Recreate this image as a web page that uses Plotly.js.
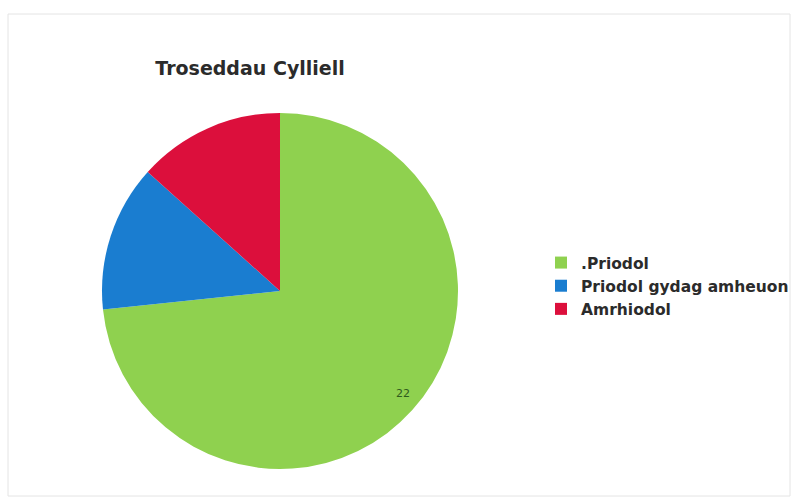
<!DOCTYPE html>
<html>
<head>
<meta charset="utf-8">
<script src="https://cdn.plot.ly/plotly-3.0.1.min.js"></script>
<style>html,body{margin:0;padding:0;background:#fff;}#chart{width:795px;height:499px;}</style>
</head>
<body>
<div id="chart"></div>
<script>
const categories = ['.Priodol', 'Priodol gydag amheuon', 'Amrhiodol'];
const values = [22, 4, 4];
const sliceColors = ['#8fd14f', '#1a7dd0', '#dc0f3c'];
const shownLabels = [true, false, false];

const W = 795, H = 499;
const cx = 280, cy = 291, R = 178;

const trace = {
  type: 'pie',
  labels: categories,
  values: values,
  sort: false,
  direction: 'clockwise',
  rotation: 0,
  marker: {colors: sliceColors, line: {width: 0}},
  textinfo: 'none',
  hoverinfo: 'label+value',
  domain: {x: [(cx - R)/W, (cx + R)/W], y: [(H - cy - R)/H, (H - cy + R)/H]}
};

// value labels placed near the rim of each slice, at the slice's mid angle (derived from the data)
const total = values.reduce((a, b) => a + b, 0);
const annotations = [];
let acc = 0;
values.forEach((v, i) => {
  const mid = (acc + v / 2) / total * 2 * Math.PI;
  acc += v;
  if (!shownLabels[i]) return;
  const rr = R * 0.93;
  annotations.push({
    xref: 'paper', yref: 'paper',
    x: (cx + rr * Math.sin(mid)) / W,
    y: (H - cy + rr * Math.cos(mid)) / H,
    text: String(v), showarrow: false,
    font: {family: 'DejaVu Sans', size: 11, color: '#2f5a1c'}
  });
});

const layout = {
  width: W, height: H,
  margin: {l: 0, r: 0, t: 0, b: 0, autoexpand: false},
  paper_bgcolor: '#ffffff',
  showlegend: true,
  title: {
    text: '<b>Troseddau Cylliell</b>',
    font: {family: 'DejaVu Sans', size: 19, color: '#2b2b2b'},
    x: 250/W, xanchor: 'center', xref: 'paper',
    y: 1 - 68/H, yanchor: 'middle', yref: 'paper'
  },
  legend: {
    x: 541/W, xanchor: 'left',
    y: 1 - 246/H, yanchor: 'top',
    font: {family: 'DejaVu Sans', size: 15.5, color: '#2b2b2b', weight: 'bold'},
    itemwidth: 30,
    bgcolor: 'rgba(0,0,0,0)'
  },
  annotations: annotations,
  shapes: [{
    type: 'rect', xref: 'paper', yref: 'paper',
    x0: 8/W, x1: 790/W, y0: 1 - 496/H, y1: 1 - 14/H,
    line: {color: '#e4e4e4', width: 1}
  }]
};

Plotly.newPlot('chart', [trace], layout, {displayModeBar: false, staticPlot: true});
</script>
</body>
</html>
